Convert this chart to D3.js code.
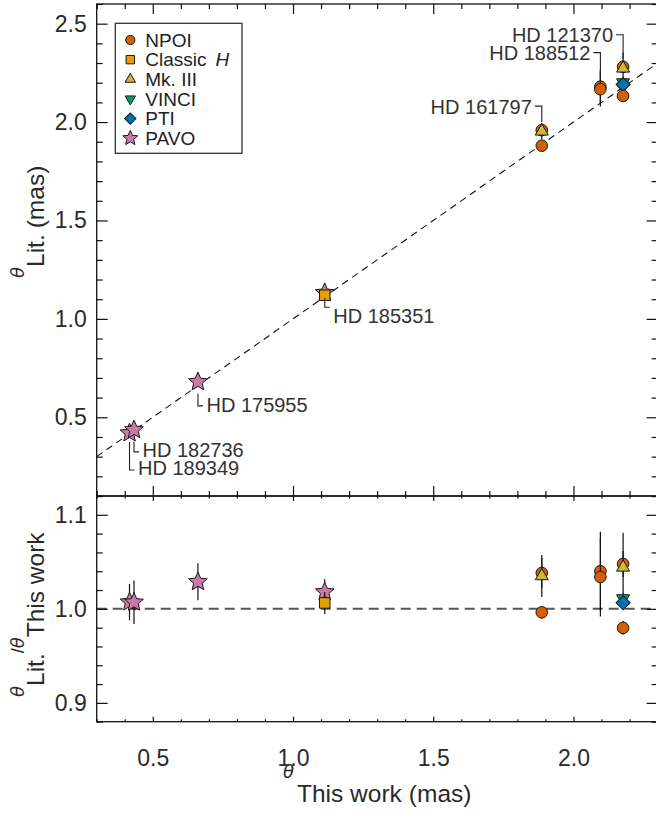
<!DOCTYPE html>
<html>
<head>
<meta charset="utf-8">
<script src="https://cdn.jsdelivr.net/npm/d3@7"></script>
<style>
body { margin: 0; background: #fff; }
svg { font-family: "Liberation Sans", Arial, sans-serif; }
.greek { font-family: "DejaVu Sans", sans-serif; font-style: oblique; }
</style>
</head>
<body>
<svg id="chart" width="656" height="825"></svg>
<script>
// instruments (legend order)
var instruments = ["NPOI", "Classic", "Mk. III", "VINCI", "PTI", "PAVO"];
var instColors = ["#D55E00", "#E69F00", "#CBB83C", "#009E73", "#0072B2", "#CC79A7"];

// stars and our angular diameters (mas)
var starNames = ["HD 189349", "HD 182736", "HD 175955", "HD 185351", "HD 161797", "HD 188512", "HD 121370"];
var thetaThis = [0.417, 0.433, 0.661, 1.113, 1.887, 2.096, 2.177];

// literature measurements: star index, instrument index, diameter and error (mas)
var measStar = [0, 1, 2, 3, 3, 4, 4, 4, 5, 5, 6, 6, 6, 6, 6];
var measInst = [5, 5, 5, 5, 1, 0, 2, 0, 0, 0, 0, 2, 3, 4, 0];
var measLit  = [0.420, 0.436, 0.680, 1.133, 1.120, 1.959, 1.953, 1.880, 2.180, 2.167, 2.281, 2.273, 2.201, 2.191, 2.133];
var measErr  = [0.008, 0.010, 0.013, 0.015, 0.013, 0.030, 0.042, 0.012, 0.088, 0.088, 0.030, 0.080, 0.012, 0.011, 0.016];

// tick values
var xMajor = [0.5, 1.0, 1.5, 2.0];
var y1Major = [0.5, 1.0, 1.5, 2.0, 2.5];
var y2Major = [0.9, 1.0, 1.1];

// which stars get a name tag, and on which side
var labelStar = [6, 5, 4, 3, 2, 1, 0];
var labelSide = ["up", "up", "up", "down", "down", "down", "down"];
// pixel offsets of the tags (corner from marker, text from corner, line start from marker)
var labelCorner = [-32, -34, -24, 12, 24, 22, 37];
var labelText   = [7.5, 7.5, 7.5, 16, 5.7, 5, 5];
var labelStart  = [-8, -8, -8, 3, 12, 11.7, 9];

var svg = d3.select("#chart");
var left = 96.7, right = 657.6, top1 = 4, bot1 = 496, bot2 = 721.7;

var x = d3.scaleLinear().domain([0.3, 2.3]).range([left, right]);
var y1 = d3.scaleLinear().domain([0.1, 2.6]).range([bot1, top1]);
var y2 = d3.scaleLinear().domain([0.88, 1.12]).range([bot2, bot1]);

var meas = measLit.map(function(v, i) {
  var th = thetaThis[measStar[i]];
  return { star: measStar[i], inst: measInst[i], lit: v, err: measErr[i], th: th,
           ratio: v / th, rerr: measErr[i] / th };
});

// fat five-point star like the IDL one
var starType = {
  draw: function(ctx, size) {
    var R = Math.sqrt(size), r = R * 0.46;
    for (var i = 0; i < 10; i++) {
      var a = -Math.PI / 2 + i * Math.PI / 5, rad = i % 2 ? r : R;
      if (i == 0) ctx.moveTo(rad * Math.cos(a), rad * Math.sin(a));
      else ctx.lineTo(rad * Math.cos(a), rad * Math.sin(a));
    }
    ctx.closePath();
  }
};

function symbolFor(inst, small) {
  var k = small ? 0.8 : 1;
  if (inst == 0) return { d: d3.symbol().type(d3.symbolCircle).size(Math.PI * Math.pow(5.8 * k, 2))(), rot: 0 };
  if (inst == 1) return { d: d3.symbol().type(d3.symbolSquare).size(Math.pow(10.5 * k, 2))(), rot: 0 };
  if (inst == 2) return { d: d3.symbol().type(d3.symbolTriangle).size(Math.sqrt(3) / 4 * Math.pow(13 * k, 2))(), rot: 0 };
  if (inst == 3) return { d: d3.symbol().type(d3.symbolTriangle).size(Math.sqrt(3) / 4 * Math.pow(13 * k, 2))(), rot: 180 };
  if (inst == 4) return { d: d3.symbol().type(d3.symbolSquare).size(Math.pow(10 * k, 2))(), rot: 45 };
  return { d: d3.symbol().type(starType).size(Math.pow(9.8 * k, 2))(), rot: 0 };
}

function drawMarker(g, inst, px, py, small) {
  var s = symbolFor(inst, small);
  g.append("path").attr("d", s.d)
    .attr("transform", "translate(" + px + "," + py + ") rotate(" + s.rot + ")")
    .attr("fill", instColors[inst]).attr("stroke", "#1a1a1a").attr("stroke-width", 1);
}

// clip paths
var defs = svg.append("defs");
defs.append("clipPath").attr("id", "clip1").append("rect")
  .attr("x", left).attr("y", top1).attr("width", right - left).attr("height", bot1 - top1);
defs.append("clipPath").attr("id", "clip2").append("rect")
  .attr("x", left).attr("y", bot1).attr("width", right - left).attr("height", bot2 - bot1);

// ---- top panel
var p1 = svg.append("g").attr("clip-path", "url(#clip1)");
p1.append("line")
  .attr("x1", x(0.3)).attr("y1", y1(0.3)).attr("x2", x(2.3)).attr("y2", y1(2.3))
  .attr("stroke", "#111").attr("stroke-width", 1.1).attr("stroke-dasharray", "7,5");

// name tags
var tags = svg.append("g");
labelStar.forEach(function(si, j) {
  var lits = meas.filter(function(m) { return m.star == si; }).map(function(m) { return m.lit; });
  var px = x(thetaThis[si]);
  var my = labelSide[j] == "up" ? y1(d3.max(lits)) : y1(d3.min(lits));
  var cy = my + labelCorner[j];
  var sy = my + labelStart[j];
  if (labelSide[j] == "up") {
    tags.append("path").attr("d", "M" + (px - 7) + "," + cy + "H" + px + "V" + sy)
      .attr("fill", "none").attr("stroke", "#222").attr("stroke-width", 1.1);
    tags.append("text").attr("x", px - 10).attr("y", cy + labelText[j])
      .attr("text-anchor", "end").attr("font-size", 20).attr("fill", "#333").text(starNames[si]);
  } else {
    tags.append("path").attr("d", "M" + px + "," + sy + "V" + cy + "H" + (px + 5))
      .attr("fill", "none").attr("stroke", "#222").attr("stroke-width", 1.1);
    tags.append("text").attr("x", px + 8.5).attr("y", cy + labelText[j])
      .attr("font-size", 20).attr("fill", "#333").text(starNames[si]);
  }
});

meas.forEach(function(m) {
  p1.append("line").attr("x1", x(m.th)).attr("x2", x(m.th))
    .attr("y1", y1(m.lit - m.err)).attr("y2", y1(m.lit + m.err))
    .attr("stroke", "#111").attr("stroke-width", 1.2);
  drawMarker(p1, m.inst, x(m.th), y1(m.lit), false);
});

// ---- bottom panel
var p2 = svg.append("g").attr("clip-path", "url(#clip2)");
p2.append("line").attr("x1", left).attr("x2", right).attr("y1", y2(1)).attr("y2", y2(1))
  .attr("stroke", "#555").attr("stroke-width", 2).attr("stroke-dasharray", "10,6");
meas.forEach(function(m) {
  p2.append("line").attr("x1", x(m.th)).attr("x2", x(m.th))
    .attr("y1", y2(m.ratio - m.rerr)).attr("y2", y2(m.ratio + m.rerr))
    .attr("stroke", "#111").attr("stroke-width", 1.2);
  drawMarker(p2, m.inst, x(m.th), y2(m.ratio), false);
});

// ---- axes
function minorOf(lo, hi, step, major) {
  var out = [];
  for (var v = lo; v <= hi + 1e-9; v += step) {
    var r = Math.round(v * 1000) / 1000;
    if (major.every(function(M) { return Math.abs(M - r) > 1e-6; })) out.push(r);
  }
  return out;
}
function tickAxis(axisFn, scale, vals, size, tx, ty, labels, pad) {
  var a = axisFn(scale).tickValues(vals).tickSize(-size).tickPadding(pad || 0)
    .tickFormat(labels ? d3.format(".1f") : "");
  var g = svg.append("g").attr("transform", "translate(" + tx + "," + ty + ")").call(a);
  g.select(".domain").remove();
  g.selectAll("line").attr("stroke", "#111").attr("stroke-width", 1.2);
  g.selectAll("text").attr("font-size", 23).attr("fill", "#2a2a2a")
    .attr("font-family", "Liberation Sans, Arial, sans-serif");
  return g;
}
var xMinor = minorOf(0.3, 2.3, 0.1, xMajor);
// top panel
tickAxis(d3.axisLeft, y1, y1Major, 11, left, 0, true, 10);
tickAxis(d3.axisLeft, y1, minorOf(0.1, 2.6, 0.1, y1Major), 6, left, 0, false);
tickAxis(d3.axisRight, y1, y1Major, 11, right, 0, false);
tickAxis(d3.axisRight, y1, minorOf(0.1, 2.6, 0.1, y1Major), 6, right, 0, false);
tickAxis(d3.axisTop, x, xMajor, 10, 0, top1, false);
tickAxis(d3.axisTop, x, xMinor, 5, 0, top1, false);
tickAxis(d3.axisBottom, x, xMajor, 10, 0, bot1, false);
tickAxis(d3.axisBottom, x, xMinor, 5, 0, bot1, false);
// bottom panel
tickAxis(d3.axisLeft, y2, y2Major, 11, left, 0, true, 10);
tickAxis(d3.axisLeft, y2, minorOf(0.88, 1.12, 0.02, y2Major), 6, left, 0, false);
tickAxis(d3.axisRight, y2, y2Major, 11, right, 0, false);
tickAxis(d3.axisRight, y2, minorOf(0.88, 1.12, 0.02, y2Major), 6, right, 0, false);
tickAxis(d3.axisTop, x, xMajor, 5, 0, bot1, false);
tickAxis(d3.axisTop, x, xMinor, 2.5, 0, bot1, false);
tickAxis(d3.axisBottom, x, xMajor, 5, 0, bot2, true, 28);
tickAxis(d3.axisBottom, x, xMinor, 2.5, 0, bot2, false);

// frames
svg.append("rect").attr("x", left).attr("y", top1).attr("width", right - left).attr("height", bot1 - top1)
  .attr("fill", "none").attr("stroke", "#111").attr("stroke-width", 1.3);
svg.append("rect").attr("x", left).attr("y", bot1).attr("width", right - left).attr("height", bot2 - bot1)
  .attr("fill", "none").attr("stroke", "#111").attr("stroke-width", 1.3);

// ---- titles
var t1 = svg.append("text").attr("transform", "translate(44,278) rotate(-90)")
  .attr("font-size", 24.5).attr("fill", "#2a2a2a");
t1.append("tspan").attr("class", "greek").attr("dy", -20).attr("font-size", 18).text("θ");
t1.append("tspan").attr("dy", 20).text("Lit.");
t1.append("tspan").attr("dx", 6).text("(mas)");

var t2 = svg.append("text").attr("transform", "translate(44,697) rotate(-90)")
  .attr("font-size", 24.5).attr("fill", "#2a2a2a");
t2.append("tspan").attr("class", "greek").attr("dy", -20).attr("font-size", 18).text("θ");
t2.append("tspan").attr("dy", 20).text("Lit.");
t2.append("tspan").attr("dy", -20).attr("font-size", 18).text("/");
t2.append("tspan").attr("class", "greek").attr("font-size", 18).text("θ");
t2.append("tspan").attr("dy", 20).text("This work");

var t3 = svg.append("text").attr("x", 283).attr("y", 802)
  .attr("font-size", 24.5).attr("fill", "#2a2a2a");
t3.append("tspan").attr("class", "greek").attr("dy", -24).attr("font-size", 18).text("θ");
t3.append("tspan").attr("dy", 24).attr("dx", 3).text("This work");
t3.append("tspan").attr("dx", 7).text("(mas)");

// ---- legend
var lg = svg.append("g");
lg.append("rect").attr("x", 115.3).attr("y", 23.3).attr("width", 126.7).attr("height", 130)
  .attr("fill", "#fff").attr("stroke", "#333").attr("stroke-width", 1.3);
instruments.forEach(function(name, i) {
  var cy = 40 + i * 19.65;
  drawMarker(lg, i, 130.3, cy, true);
  var t = lg.append("text").attr("x", 145.3).attr("y", cy + 6.8)
    .attr("font-size", 19).attr("fill", "#222").text(name);
  if (i == 1) t.append("tspan").attr("dx", 9).attr("font-style", "italic").text("H");
});
</script>
</body>
</html>
